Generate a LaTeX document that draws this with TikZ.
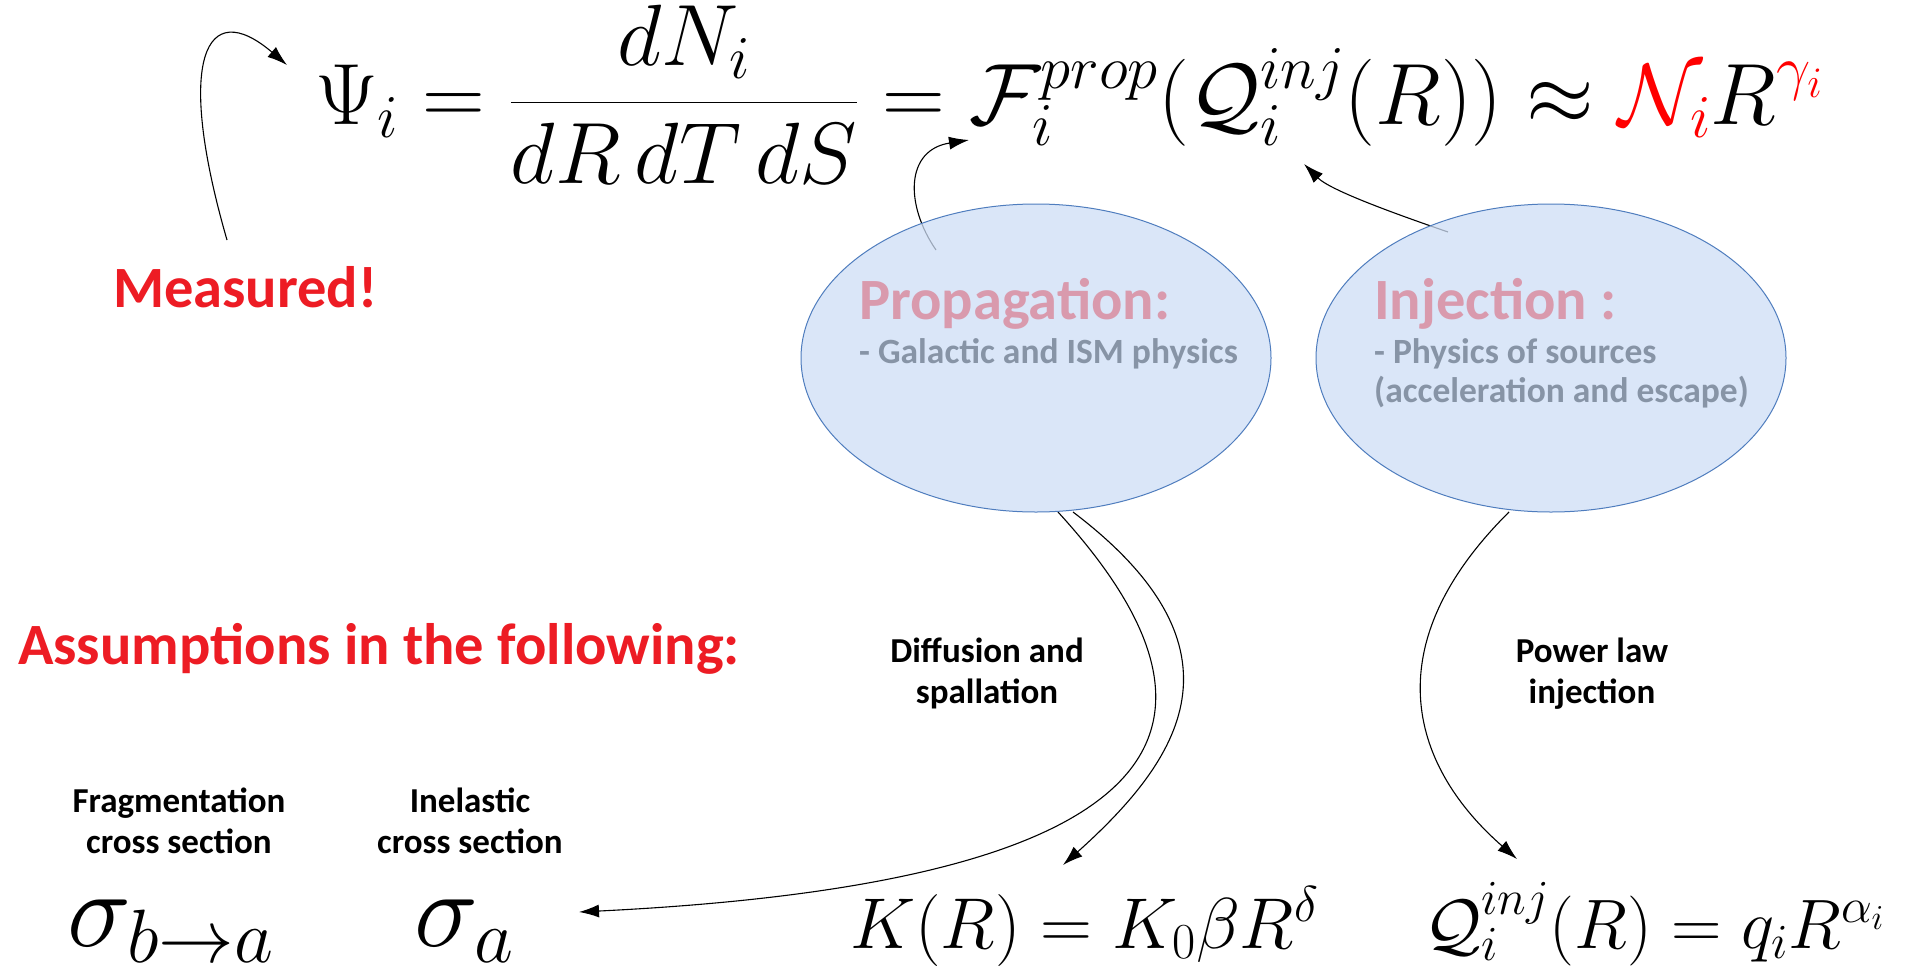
\RequirePackage{fix-cm}
\documentclass[tikz,border=0pt]{standalone}
\usepackage[no-math]{fontspec}
\setmainfont{Carlito}
\usepackage{amsmath}
\usetikzlibrary{arrows.meta,shapes.geometric}
\definecolor{mred}{HTML}{ED1C24}
\definecolor{pinkt}{HTML}{D99AAD}
\definecolor{greyt}{HTML}{8794A6}
\definecolor{ellfill}{RGB}{206,222,246}
\definecolor{ellline}{HTML}{4F7DBE}
\tikzset{
  conn/.style={line width=1.1pt,-{Latex[length=20pt,width=13pt]}},
  bubble/.style={ellipse,draw=ellline,line width=1pt,fill=ellfill,fill opacity=0.75,minimum width=470pt,minimum height=308pt,inner sep=0pt},
  lbl/.style={font=\fontsize{35}{41}\selectfont\bfseries,align=center,inner sep=0pt},
  head/.style={font=\fontsize{58.5}{66}\selectfont\bfseries,text=mred,inner sep=0pt},
  ptitle/.style={anchor=base west,inner sep=0pt,text=pinkt,font=\fontsize{58.5}{66}\selectfont\bfseries},
  pdesc/.style={anchor=base west,inner sep=0pt,text=greyt,font=\fontsize{35.5}{42}\selectfont\bfseries},
  eq/.style={inner sep=0pt}
}
\begin{document}
\begin{tikzpicture}[x=1pt,y=-1pt]
\useasboundingbox[fill=white] (0,0) rectangle (1911,974);
% main equation
\node[eq,anchor=base west] (main) at (315,124) {\fontsize{87}{95}\selectfont$\displaystyle \Psi_i = \frac{dN_i}{dR\,dT\,dS} = \mathcal{F}_i^{prop}(\mathcal{Q}_i^{inj}(R)) \approx {\color{red}\mathcal{N}_i} R^{\color{red}\gamma_i}$};
\node[head,anchor=base west] (meas) at (113,307) {Measured!};
\node[head,anchor=base west] (assume) at (18,664) {Assumptions in the following:};
% coordinates
\coordinate (m0) at (227,240);
\coordinate (m1) at (287,65);
\coordinate (p0) at (936,250);
\coordinate (p1) at (969,140);
\coordinate (i0) at (1448,232);
\coordinate (i1) at (1304,164);
\coordinate (d0) at (1058,512);
\coordinate (d1) at (579,912);
\coordinate (k0) at (1073,512);
\coordinate (k1) at (1063,865);
\coordinate (q0) at (1509,512);
\coordinate (q1) at (1517,859);
% arrows (behind bubbles)
\draw[conn] (m0) .. controls (175,60) and (205,-5) .. (m1);
\draw[conn] (p0) .. controls (905,205) and (905,150) .. (p1);
\draw[conn] (i0) .. controls (1390,212) and (1330,190) .. (i1);
\draw[conn] (d0) .. controls (1230,700) and (1230,880) .. (d1);
\draw[conn] (k0) .. controls (1255,650) and (1180,760) .. (k1);
\draw[conn] (q0) .. controls (1370,650) and (1415,770) .. (q1);
% bubbles
\node[bubble] (prop) at (1036,358) {};
\node[bubble] (inj) at (1551,358) {};
\node[ptitle] (propt) at (859,319) {Propagation:};
\node[pdesc] (propd) at (859,363) {- Galactic and ISM physics};
\node[ptitle] (injt) at (1374,319) {Injection :};
\node[pdesc] (injd) at (1374,363) {- Physics of sources};
\node[pdesc] (injd2) at (1374,402) {(acceleration and escape)};
% labels
\node[lbl,anchor=base] (diff) at (987,703) {Diffusion and\\spallation};
\node[lbl,anchor=base] (pow) at (1592,703) {Power law\\injection};
\node[lbl,anchor=base] (frag) at (179,853) {Fragmentation\\cross section};
\node[lbl,anchor=base] (inel) at (470,853) {Inelastic\\cross section};
% bottom formulas
\node[eq,anchor=base west] (sba) at (67,946) {\fontsize{108}{110}\selectfont$\sigma_{b\to a}$};
\node[eq,anchor=base west] (sa) at (414,946) {\fontsize{108}{110}\selectfont$\sigma_{a}$};
\node[eq,anchor=base west] (kr) at (850,948) {\fontsize{72}{86}\selectfont$K(R) = K_0\beta R^\delta$};
\node[eq,anchor=base west] (qr) at (1424,948) {\fontsize{70}{86}\selectfont$\mathcal{Q}_i^{inj}(R) = q_i R^{\alpha_i}$};
\end{tikzpicture}
\end{document}
